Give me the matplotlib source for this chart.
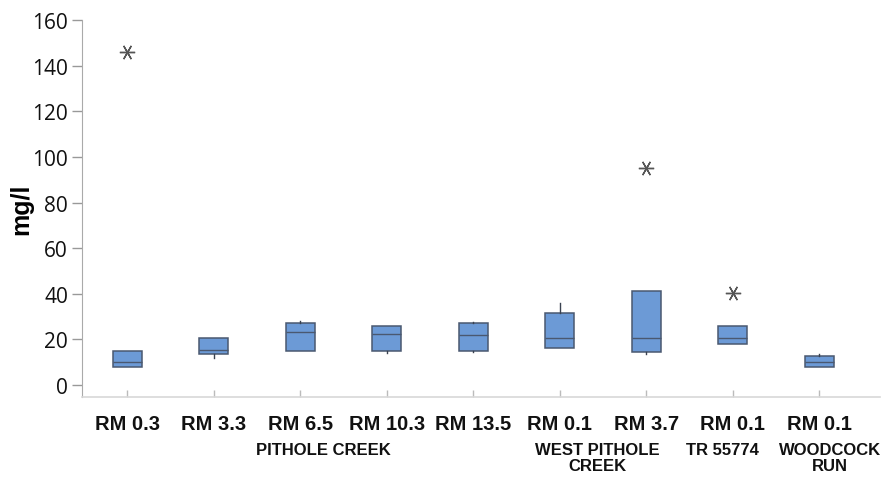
import matplotlib
matplotlib.use("Agg")
import matplotlib.pyplot as plt

# Sites along the x axis and the stream each belongs to
sites = ["RM 0.3", "RM 3.3", "RM 6.5", "RM 10.3", "RM 13.5",
         "RM 0.1", "RM 3.7", "RM 0.1", "RM 0.1"]
streams = ["PITHOLE CREEK", "WEST PITHOLE\nCREEK", "TR 55774", "WOODCOCK\nRUN"]
stream_centers = [2.27, 5.43, 6.88, 8.12]

# Box summaries (mg/l)
q1 = [8, 13.5, 15, 15, 15, 16, 14.6, 18, 8]
med = [10, 15.2, 23, 22.5, 22, 20.5, 20.5, 20.5, 10.2]
q3 = [15, 20.5, 27, 26, 27, 31.5, 41, 26, 12.8]
whislo = [8, 12, 15, 14.2, 14.6, 16, 13.6, 18, 8]
whishi = [15, 20.5, 28, 26, 27.5, 36, 41, 26, 13.4]
outliers = [[146], [], [], [], [], [], [95], [40.5], []]

yticks = [0, 20, 40, 60, 80, 100, 120, 140, 160]

plt.rcParams["font.family"] = ["Open Sans", "DejaVu Sans"]

fig = plt.figure(figsize=(8.9, 4.81), dpi=100)
ax = fig.add_axes([82 / 890, 1 - 398 / 481, 798 / 890, 378 / 481])

stats = []
for i in range(len(sites)):
    stats.append(dict(med=med[i], q1=q1[i], q3=q3[i],
                      whislo=whislo[i], whishi=whishi[i],
                      fliers=outliers[i]))

edge = "#4a5870"
ax.bxp(stats, positions=range(len(sites)), widths=0.335, patch_artist=True,
       showcaps=False,
       boxprops=dict(facecolor="#6c9ad6", edgecolor=edge, linewidth=1.1),
       medianprops=dict(color=edge, linewidth=1.0),
       whiskerprops=dict(color="#3a4250", linewidth=1.0),
       flierprops=dict(marker=(6, 2, 90), markersize=11,
                       markeredgecolor="#555555", markeredgewidth=1.0,
                       linestyle="none"))

ax.set_xlim(-0.52, 8.7)
ax.set_ylim(-5.3, 160.5)
ax.set_yticks(yticks)
ax.set_yticklabels([str(v) for v in yticks], fontsize=15, color="#111111",
                   fontweight="medium")
ax.set_xticks(range(len(sites)))
ax.set_xticklabels(sites, fontsize=14.5, fontweight="bold",
                   family=["Liberation Sans", "DejaVu Sans"], color="#111111")

ax.tick_params(axis="y", length=7, width=1, color="#999999", pad=3)
ax.tick_params(axis="x", direction="in", length=5, width=1,
               color="#bbbbbb", pad=12)

for side in ("top", "right"):
    ax.spines[side].set_visible(False)
ax.spines["left"].set_color("#aaaaaa")
ax.spines["left"].set_bounds(-5.3, 160)
ax.spines["bottom"].set_color("#d8d8d8")
ax.spines["bottom"].set_linewidth(1.2)

ax.set_ylabel("mg/l", fontsize=18, fontweight="bold",
              family=["Liberation Sans", "DejaVu Sans"])
ax.yaxis.set_label_coords(-49 / 798, 0.5)

for name, xc in zip(streams, stream_centers):
    ax.text(xc, -0.12, name, transform=ax.get_xaxis_transform(),
            ha="center", va="top", fontsize=12, fontweight="bold",
            family=["Liberation Sans", "DejaVu Sans"], color="#111111",
            linespacing=1.05)

fig.savefig("out.png", dpi=100, facecolor="white")
